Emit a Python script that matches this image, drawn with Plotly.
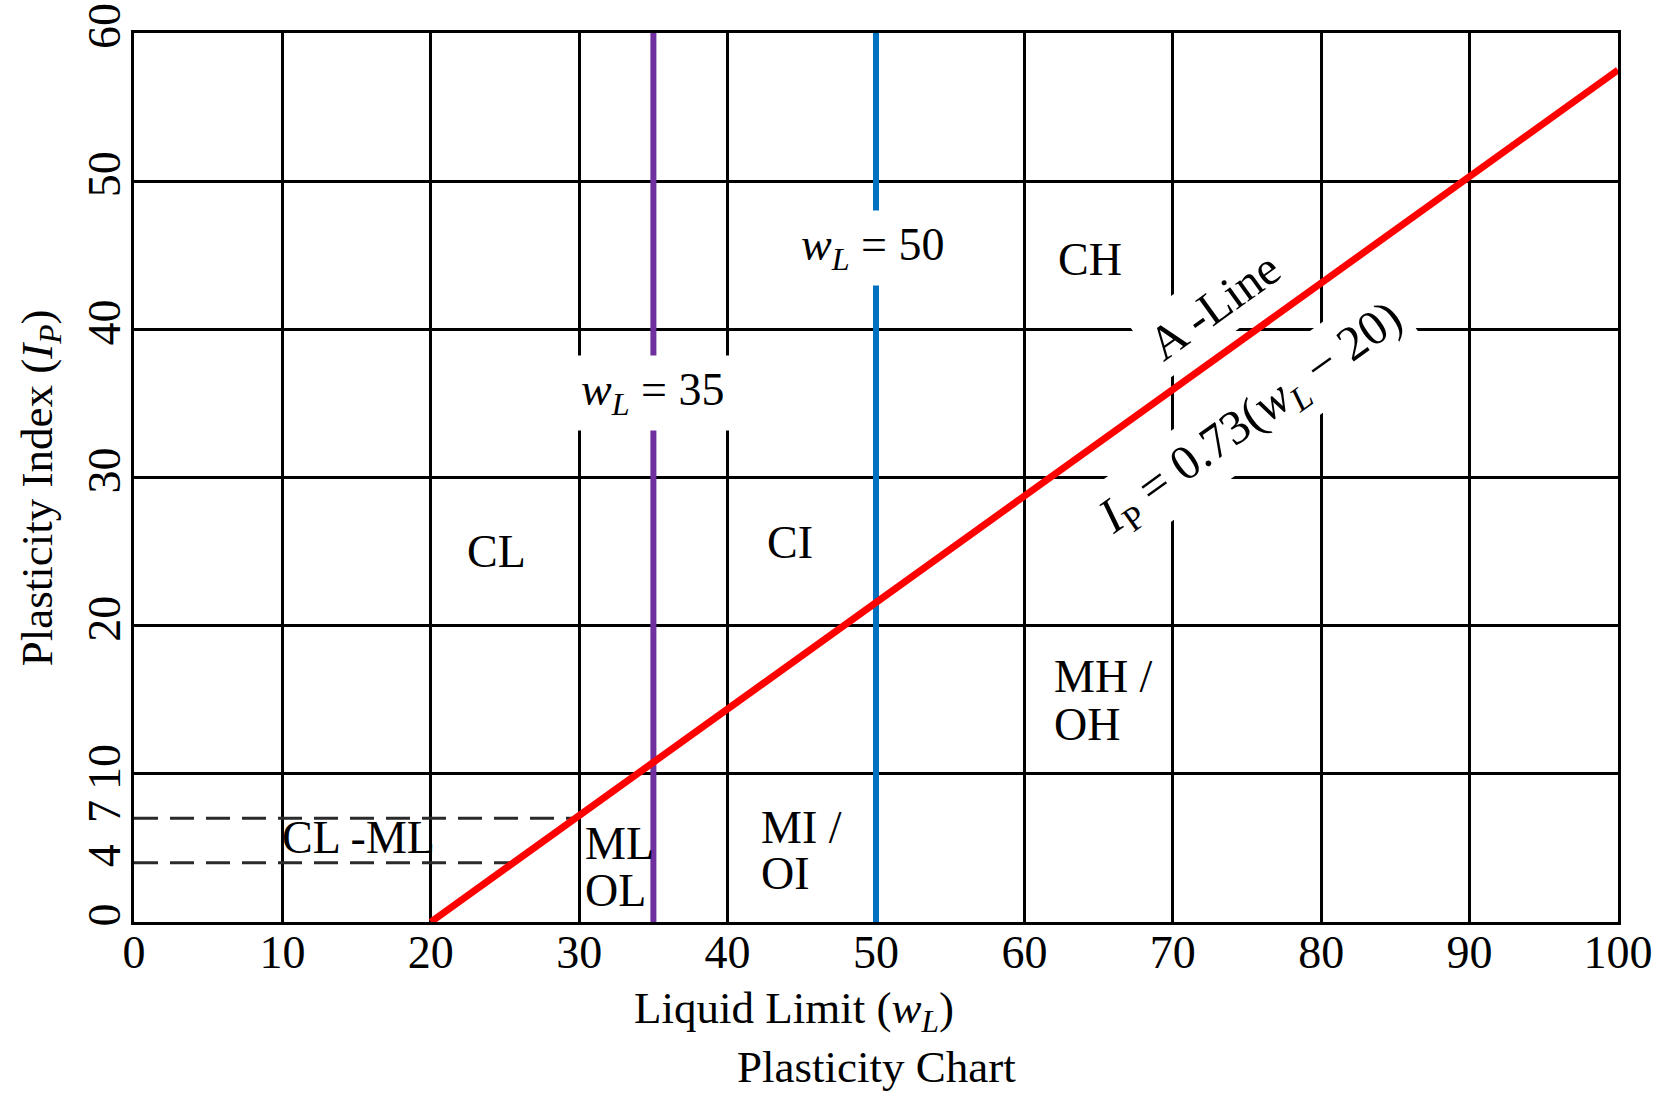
import plotly.graph_objects as go

# ---- data ----
x_tick_vals = [0, 10, 20, 30, 40, 50, 60, 70, 80, 90, 100]
y_tick_vals = [0, 4, 7, 10, 20, 30, 40, 50, 60]
grid_x = [10, 20, 30, 40, 50, 60, 70, 80, 90]
grid_y = [10, 20, 30, 40, 50]

a_line_wl = [20, 100]
a_line_ip = [0, 57.5]

wl35_x = [35, 35]
wl50_x = [50, 50]
vline_ip = [0, 60]

dash7_wl = [0, 29.8]
dash7_ip = [7, 7]
dash4_wl = [0, 25.4]
dash4_ip = [4, 4]

FONT = "Liberation Serif"
WL = "<i>w</i><sub><i>L</i></sub>"

fig = go.Figure()

# dashed CL-ML band limits
for xs, ys in ((dash7_wl, dash7_ip), (dash4_wl, dash4_ip)):
    fig.add_trace(go.Scatter(x=xs, y=ys, mode="lines",
                             line=dict(color="#2a2a2a", width=3, dash="24px,12px"),
                             showlegend=False, hoverinfo="skip"))
# vertical liquid-limit boundaries
fig.add_trace(go.Scatter(x=wl35_x, y=vline_ip, mode="lines",
                         line=dict(color="#7030A0", width=6),
                         showlegend=False, hoverinfo="skip"))
fig.add_trace(go.Scatter(x=wl50_x, y=vline_ip, mode="lines",
                         line=dict(color="#0070C0", width=6),
                         showlegend=False, hoverinfo="skip"))
# A-line
fig.add_trace(go.Scatter(x=a_line_wl, y=a_line_ip, mode="lines",
                         line=dict(color="#FF0000", width=7),
                         showlegend=False, hoverinfo="skip"))

tickfont = dict(family=FONT, size=46, color="black")

fig.update_xaxes(range=[0, 100], tickvals=x_tick_vals, ticktext=[str(v) for v in x_tick_vals],
                 showgrid=False, zeroline=False, showline=True, mirror=True, automargin=False,
                 linecolor="black", linewidth=3, ticks="", tickfont=tickfont,
                 ticklabelstandoff=-12, ticklabeloverflow="allow",
                 minor=dict(tickvals=grid_x, showgrid=True, gridcolor="black", gridwidth=2.5, ticks=""))
fig.update_yaxes(range=[0, 60], tickvals=y_tick_vals, ticktext=[str(v) for v in y_tick_vals],
                 tickangle=-90, showgrid=False, zeroline=False, showline=True, mirror=True,
                 automargin=False, ticklabelstandoff=-7, ticklabeloverflow="allow",
                 linecolor="black", linewidth=3, ticks="", tickfont=tickfont,
                 minor=dict(tickvals=grid_y, showgrid=True, gridcolor="black", gridwidth=2.5, ticks=""))

def note(x, y, text, bg=None, angle=0, align="center", xanchor="center", pad=4, size=46):
    d = dict(x=x, y=y, xref="x", yref="y", text=text, showarrow=False,
             font=dict(family=FONT, size=size, color="black"),
             textangle=angle, align=align, xanchor=xanchor, yanchor="middle", borderpad=pad)
    if bg:
        d["bgcolor"] = bg
    fig.add_annotation(**d)

note(24.4, 25.0, "CL")
note(44.2, 25.6, "CI")
note(64.4, 44.7, "CH")
note(61.9, 16.6, "MH /", xanchor="left", pad=0)
note(61.9, 13.3, "OH", xanchor="left", pad=0)
note(42.2, 6.4, "MI /", xanchor="left", pad=0)
note(42.2, 3.24, "OI", xanchor="left", pad=0)
note(30.3, 5.3, "ML", xanchor="left", pad=0)
note(30.3, 2.1, "OL", xanchor="left", pad=0)
note(15.1, 5.7, "CL -ML", pad=0)
note(49.8, 45.5, WL + " = 50", bg="white", pad=8)
note(35.0, 35.7, WL + " = 35", bg="white", pad=8)
note(72.8, 41.6, "A -Line", bg="white", angle=-35.7, pad=6, size=48)
note(75.3, 34.0, "<i>I</i><sub>P</sub> = 0.73(" + WL + " − 20)", bg="white", angle=-35.7, pad=6, size=49)

lab = dict(family=FONT, size=45, color="black")
# axis titles and caption
fig.add_annotation(x=0.4447, y=-0.100, xref="paper", yref="paper", showarrow=False,
                   text="Liquid Limit (" + WL + ")", font=lab, xanchor="center", yanchor="middle")
fig.add_annotation(x=0.5, y=-0.1631, xref="paper", yref="paper", showarrow=False,
                   text="Plasticity Chart", font=lab, xanchor="center", yanchor="middle")
fig.add_annotation(x=-0.0633, y=0.488, xref="paper", yref="paper", showarrow=False,
                   text="Plasticity Index (<i>I</i><sub><i>P</i></sub>)", font=lab,
                   textangle=-90, xanchor="center", yanchor="middle")

fig.update_layout(width=1655, height=1098, paper_bgcolor="white", plot_bgcolor="white",
                  margin=dict(l=134, r=37, t=33, b=176), showlegend=False,
                  font=dict(family=FONT))

# remove the browser's default 8px body margin so the figure fills the window exactly
fig.write_html("out.html",
               config={"displayModeBar": False},
               post_script="document.body.style.margin='0px';"
                           "document.documentElement.style.overflow='hidden';")
